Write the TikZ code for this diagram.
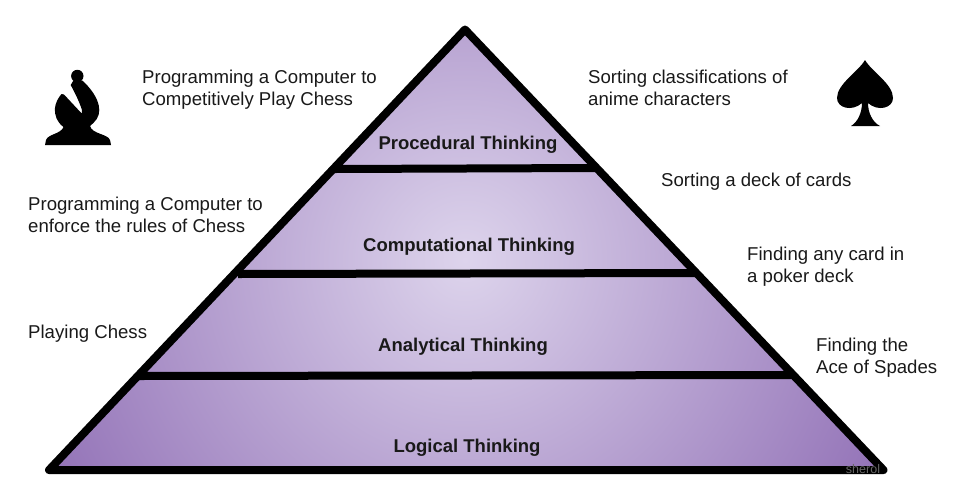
\documentclass[tikz,border=0pt]{standalone}
\usepackage{fontspec}
\setmainfont{Liberation Sans}
\begin{document}
\begin{tikzpicture}[x=1pt,y=-1pt,
  lbl/.style={font=\fontsize{18.6}{22}\selectfont,anchor=north west,align=left,inner sep=0pt,text=black!90},
  lvl/.style={font=\bfseries\fontsize{18.5}{20}\selectfont,inner sep=0pt,text=black!90},
  bar/.style={line width=8pt,black}]
\useasboundingbox (0,0) rectangle (955,499);
\coordinate (A) at (465,29.5);
\coordinate (L) at (49,470);
\coordinate (R) at (883.5,470);
\begin{scope}
\clip (A) -- (L) -- (R) -- cycle;
\fill[fill=none,inner color={rgb,255:red,221;green,212;blue,236},outer color={rgb,255:red,148;green,116;blue,184}] (465,260) circle (460);
\end{scope}
\draw[line width=8pt,line join=round,black] (A) -- (L) -- (R) -- cycle;
\coordinate (b1l) at (335,169); \coordinate (b1r) at (595,168);
\coordinate (b2l) at (238,274); \coordinate (b2r) at (695,273);
\coordinate (b3l) at (138,376); \coordinate (b3r) at (793,375);
\draw[bar] (b1l) -- (b1r);
\draw[bar] (b2l) -- (b2r);
\draw[bar] (b3l) -- (b3r);
\node[lvl] (p) at (468,144.5) {Procedural Thinking};
\node[lvl] (c) at (469,247) {Computational Thinking};
\node[lvl] (a) at (463,346.5) {Analytical Thinking};
\node[lvl] (g) at (467,447.5) {Logical Thinking};
\node[lbl] (t1) at (142,70) {Programming a Computer to\\Competitively Play Chess};
\node[lbl] (t2) at (28,197) {Programming a Computer to\\enforce the rules of Chess};
\node[lbl] (t3) at (28,325) {Playing Chess};
\node[lbl] (t4) at (588,70) {Sorting classifications of\\anime characters};
\node[lbl] (t5) at (661,173) {Sorting a deck of cards};
\node[lbl] (t6) at (747,247) {Finding any card in\\a poker deck};
\node[lbl] (t7) at (816,338) {Finding the\\Ace of Spades};
\node[font=\fontsize{12.5}{12}\selectfont,text=black!60,inner sep=0pt] (w) at (863,469) {sherol};
% bishop
\fill[black] (77.3,76) circle (6.2);
\fill[black] (70.7,85) -- (73.3,80.7) -- (82.7,80.7)
  .. controls (88,86) and (99,97) .. (99.3,110)
  .. controls (99.5,117) and (95,122) .. (90,126)
  .. controls (92,134) and (108,134) .. (110,140)
  -- (111,145) -- (45,145) -- (46,140)
  .. controls (48,134) and (61,134) .. (63.5,127)
  .. controls (57,122) and (54.5,116) .. (55,108)
  .. controls (55.5,103) and (58,98) .. (61.5,94)
  -- (64,94.5) -- (81.7,113.5) -- (82,110)
  .. controls (79,101) and (75,93) .. (70.7,85) -- cycle;
% spade
\fill[black] (865,60)
  .. controls (872,72) and (893,84) .. (893,98)
  .. controls (893,108) and (878,112) .. (868,103)
  .. controls (868,112) and (872,122) .. (880,126)
  -- (851,126)
  .. controls (858,122) and (862,112) .. (862,103)
  .. controls (852,112) and (837,108) .. (837,98)
  .. controls (837,84) and (858,72) .. (865,60) -- cycle;
\end{tikzpicture}
\end{document}
